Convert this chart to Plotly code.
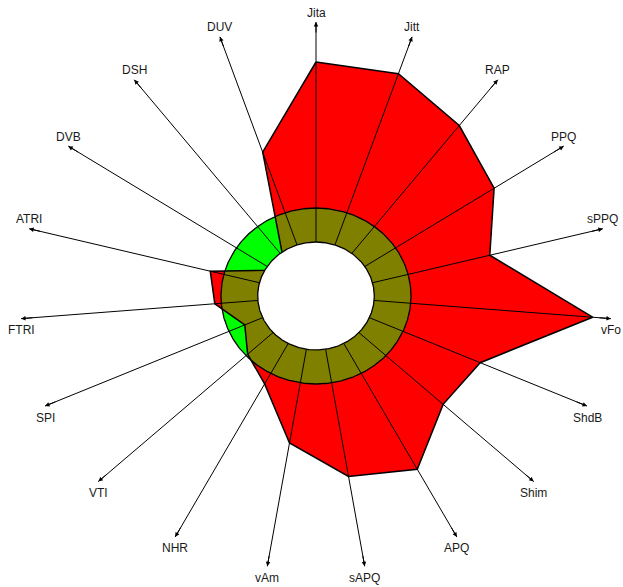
import numpy as np
import plotly.graph_objects as go

# ---- data -------------------------------------------------------------
params = ["Jita", "Jitt", "RAP", "PPQ", "sPPQ", "vFo", "ShdB", "Shim", "APQ",
          "sAPQ", "vAm", "NHR", "VTI", "SPI", "FTRI", "ATRI", "DVB", "DSH", "DUV"]
# scaled values (display units; normative threshold circle = 88)
values = [234, 235, 216, 197, 166, 257, 166, 160, 197,
          183, 149, 100, 86, 72, 94, 101, 47, 50, 152]
norm_inner = 54     # inner radius of the normative ring
norm_outer = 88     # outer radius (threshold)
axis_length = 274   # length of each parameter axis

# ---- geometry ---------------------------------------------------------
n = len(params)
step = 2 * np.pi / n
theta = np.pi / 2 - np.arange(n) * step          # clockwise from top
vals = np.array(values, dtype=float)
px = vals * np.cos(theta)
py = vals * np.sin(theta)


def poly_radius(t):
    """radius of the value polygon along direction t"""
    k = np.floor(((np.pi / 2 - t) % (2 * np.pi)) / step).astype(int) % n
    k2 = (k + 1) % n
    ex, ey = px[k2] - px[k], py[k2] - py[k]
    dx, dy = np.cos(t), np.sin(t)
    return (px[k] * ey - py[k] * ex) / (dx * ey - dy * ex)


ts = np.pi / 2 - np.linspace(0, 2 * np.pi, 1441)
circ_x, circ_y = np.cos(ts), np.sin(ts)
overlap_r = np.minimum(poly_radius(ts), norm_outer)

fig = go.Figure()
# normative ring (green)
fig.add_trace(go.Scatter(x=norm_outer * circ_x, y=norm_outer * circ_y, mode="lines",
                         fill="toself", fillcolor="#00FF00", line=dict(width=0),
                         hoverinfo="skip"))
# patient values (red)
fig.add_trace(go.Scatter(x=np.append(px, px[0]), y=np.append(py, py[0]), mode="lines",
                         fill="toself", fillcolor="#FF0000", line=dict(width=0),
                         hoverinfo="skip"))
# overlap (olive)
fig.add_trace(go.Scatter(x=overlap_r * circ_x, y=overlap_r * circ_y, mode="lines",
                         fill="toself", fillcolor="#808000", line=dict(width=0),
                         hoverinfo="skip"))
# polygon outline
fig.add_trace(go.Scatter(x=np.append(px, px[0]), y=np.append(py, py[0]), mode="lines",
                         line=dict(color="black", width=1.5), hoverinfo="skip"))
# axis lines
for i in range(n):
    fig.add_trace(go.Scatter(x=[norm_inner * np.cos(theta[i]), axis_length * np.cos(theta[i])],
                             y=[norm_inner * np.sin(theta[i]), axis_length * np.sin(theta[i])],
                             mode="lines", line=dict(color="black", width=1),
                             hoverinfo="skip"))
# white centre
fig.add_trace(go.Scatter(x=norm_inner * circ_x, y=norm_inner * circ_y, mode="lines",
                         fill="toself", fillcolor="white", line=dict(color="black", width=1.3),
                         hoverinfo="skip"))
# threshold outline
fig.add_trace(go.Scatter(x=norm_outer * circ_x, y=norm_outer * circ_y, mode="lines",
                         line=dict(color="black", width=1.3), hoverinfo="skip"))

annotations = []
for i in range(n):
    tx = axis_length * np.cos(theta[i])
    ty = axis_length * np.sin(theta[i])
    sx = (axis_length - 12) * np.cos(theta[i])
    sy = (axis_length - 12) * np.sin(theta[i])
    annotations.append(dict(x=tx, y=ty, ax=sx, ay=sy, xref="x", yref="y",
                            axref="x", ayref="y", text="", showarrow=True,
                            arrowhead=2, arrowsize=0.9, arrowwidth=1,
                            arrowcolor="black", standoff=0, startstandoff=0))
    annotations.append(dict(x=tx, y=ty, xref="x", yref="y", text=params[i],
                            showarrow=False, xanchor="center", yanchor="middle",
                            yshift=9.5 if np.sin(theta[i]) > 0 else -11.5,
                            font=dict(family="Liberation Sans, Arial", size=12,
                                      color="#1a1a1a")))

W, H = 623, 587
cx, cy = 316, 296
xscale = 1.08
fig.update_layout(
    width=W, height=H, margin=dict(l=0, r=0, t=0, b=0),
    paper_bgcolor="white", plot_bgcolor="white", showlegend=False,
    xaxis=dict(range=[-cx / xscale, (W - cx) / xscale], visible=False, fixedrange=True),
    yaxis=dict(range=[-(H - cy), cy], visible=False, fixedrange=True),
    annotations=annotations,
)
fig.write_html("out.html", config={"displayModeBar": False},
               post_script="document.body.style.margin='0px';")
